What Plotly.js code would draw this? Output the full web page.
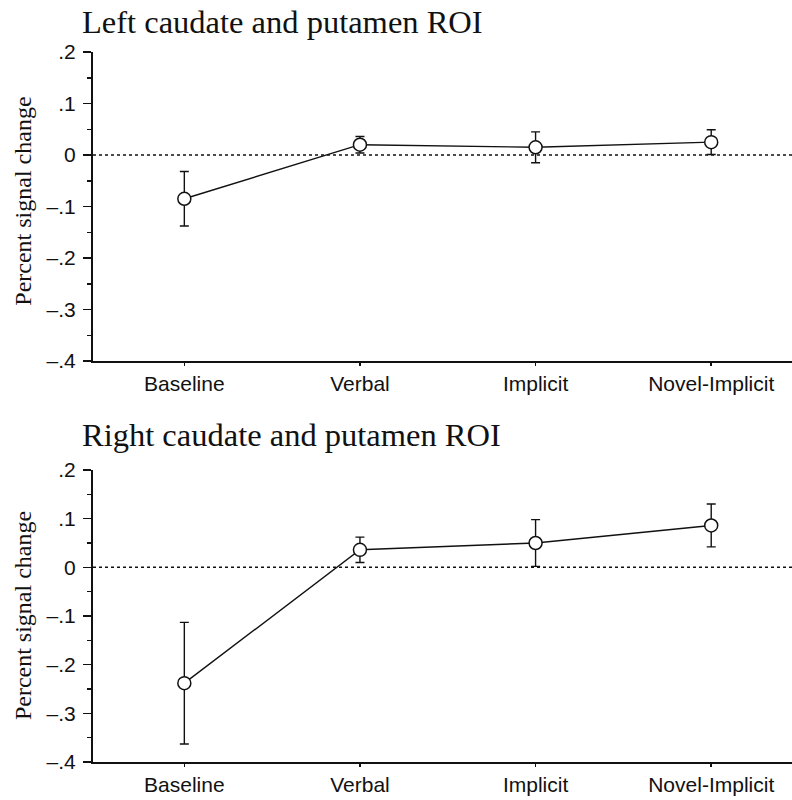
<!DOCTYPE html>
<html>
<head>
<meta charset="utf-8">
<script src="https://cdn.plot.ly/plotly-3.0.1.min.js"></script>
<style>body{margin:0;padding:0;background:#fff}#chart{width:792px;height:800px}</style>
</head>
<body>
<div id="chart"></div>
<script>
var categories = ['Baseline', 'Verbal', 'Implicit', 'Novel-Implicit'];
var leftMeans = [-0.085, 0.020, 0.015, 0.025];
var leftErrors = [0.053, 0.016, 0.030, 0.024];
var rightMeans = [-0.238, 0.036, 0.050, 0.086];
var rightErrors = [0.125, 0.026, 0.048, 0.044];
var yTickVals = [-0.4, -0.3, -0.2, -0.1, 0, 0.1, 0.2];
var yTickText = ['\u2013.4', '\u2013.3', '\u2013.2', '\u2013.1', '0', '.1', '.2'];
var titles = ['Left caudate and putamen ROI', 'Right caudate and putamen ROI'];
var yTitle = 'Percent signal change';

function trace(means, errs, xa, ya) {
  return {
    x: categories, y: means, xaxis: xa, yaxis: ya,
    type: 'scatter', mode: 'lines+markers',
    line: {color: '#111', width: 1.4},
    marker: {symbol: 'circle', size: 13, color: '#fff', line: {width: 1.5, color: '#111'}},
    error_y: {type: 'data', array: errs, visible: true, color: '#111', thickness: 1.4, width: 4.5},
    showlegend: false, hoverinfo: 'skip'
  };
}

var sans = 'Liberation Sans, Arial, sans-serif';
var serif = 'Liberation Serif, Times New Roman, serif';

function xaxisDef(anchor) {
  return {
    anchor: anchor, type: 'category', range: [-0.52, 3.46],
    showline: true, linecolor: '#111', linewidth: 2,
    ticks: 'outside', ticklen: 3, tickwidth: 1.5, tickcolor: '#111',
    showgrid: false, zeroline: false,
    tickfont: {family: sans, size: 21, color: '#111'},
    ticklabelstandoff: 0
  };
}
function yaxisDef(anchor, domain) {
  return {
    anchor: anchor, domain: domain, range: [-0.4, 0.2],
    showline: true, linecolor: '#111', linewidth: 2,
    ticks: 'outside', ticklen: 8, tickwidth: 1.5, tickcolor: '#111',
    tickvals: yTickVals, ticktext: yTickText,
    minor: {dtick: 0.05, tick0: 0, ticks: 'outside', ticklen: 4, tickwidth: 1.5, tickcolor: '#111', showgrid: false},
    showgrid: false, zeroline: false,
    tickfont: {family: sans, size: 21, color: '#111'},
    ticklabelstandoff: 3
  };
}

var data = [trace(leftMeans, leftErrors, 'x', 'y'), trace(rightMeans, rightErrors, 'x2', 'y2')];

var layout = {
  width: 792, height: 800,
  margin: {l: 93, r: 0, t: 0, b: 0},
  paper_bgcolor: '#fff', plot_bgcolor: '#fff',
  xaxis: xaxisDef('y'),
  yaxis: yaxisDef('x', [0.54875, 0.935]),
  xaxis2: xaxisDef('y2'),
  yaxis2: yaxisDef('x2', [0.0475, 0.4125]),
  shapes: [
    {type: 'line', xref: 'x domain', yref: 'y', x0: 0, x1: 1, y0: 0, y1: 0, line: {color: '#111', width: 1.5, dash: 'dot'}, layer: 'below'},
    {type: 'line', xref: 'x2 domain', yref: 'y2', x0: 0, x1: 1, y0: 0, y1: 0, line: {color: '#111', width: 1.5, dash: 'dot'}, layer: 'below'}
  ],
  annotations: [
    {text: titles[0], xref: 'paper', yref: 'paper', x: -0.0185, y: 0.9725, xanchor: 'left', yanchor: 'middle', showarrow: false, font: {family: serif, size: 32.5, color: '#111'}},
    {text: titles[1], xref: 'paper', yref: 'paper', x: -0.0185, y: 0.456, xanchor: 'left', yanchor: 'middle', showarrow: false, font: {family: serif, size: 32.5, color: '#111'}},
    {text: yTitle, xref: 'paper', yref: 'paper', x: -0.1, y: 0.748, xanchor: 'center', yanchor: 'middle', textangle: -90, showarrow: false, font: {family: serif, size: 24, color: '#111'}},
    {text: yTitle, xref: 'paper', yref: 'paper', x: -0.1, y: 0.23, xanchor: 'center', yanchor: 'middle', textangle: -90, showarrow: false, font: {family: serif, size: 24, color: '#111'}}
  ]
};

Plotly.newPlot('chart', data, layout, {displayModeBar: false, staticPlot: true});
</script>
</body>
</html>
